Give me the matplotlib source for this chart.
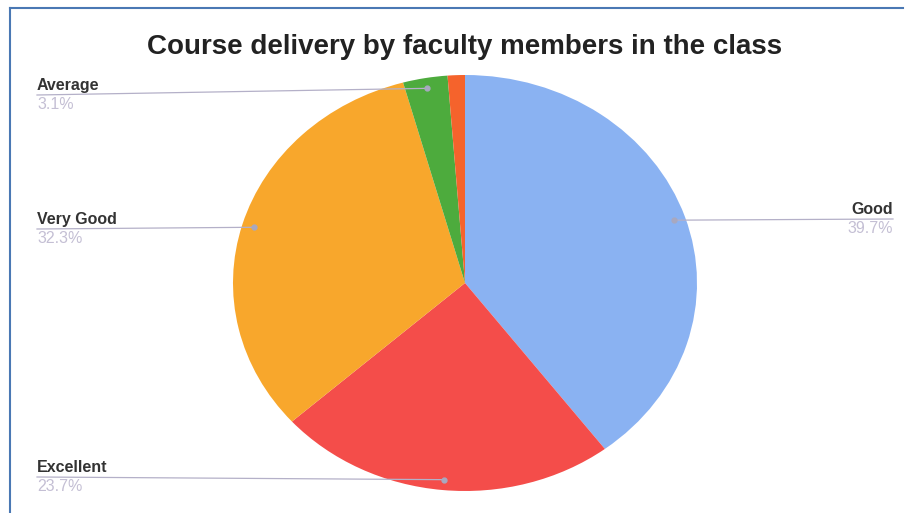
import matplotlib
matplotlib.use('agg')
import matplotlib.pyplot as plt
import numpy as np

plt.rcParams['font.family'] = ['Liberation Sans', 'DejaVu Sans']

# data (clockwise from 12 o'clock)
categories = ['Good', 'Excellent', 'Very Good', 'Average', 'Poor']
shares = [39.7, 23.7, 32.3, 3.1, 1.2]
colors = ['#8ab2f2', '#f44d4a', '#f8a72c', '#4dab3d', '#f5632c']
labelled = ['Good', 'Excellent', 'Very Good', 'Average']

W, H = 908, 513
fig = plt.figure(figsize=(W / 100, H / 100), dpi=100)

# pie axes, slightly stretched horizontally as in the scan
cx, cy, rx, ry = 465, 283, 232, 208
ax = fig.add_axes([(cx - rx) / W, (H - cy - ry) / H, 2 * rx / W, 2 * ry / H])
wedges, _ = ax.pie(shares, colors=colors, startangle=90, counterclock=False,
                   radius=1, wedgeprops=dict(linewidth=0))
ax.set_aspect('auto')
ax.set_xlim(-1, 1)
ax.set_ylim(-1, 1)
ax.axis('off')

# label positions in pixels: (x of text, y of leader line, side)
label_pos = {
    'Average': (37, 95, 'left'),
    'Very Good': (37, 229, 'left'),
    'Excellent': (37, 477, 'left'),
    'Good': (893, 219, 'right'),
}


def px(x, y):
    return (x - cx) / rx, (cy - y) / ry


for w, name, val in zip(wedges, categories, shares):
    if name not in labelled:
        continue
    mid = np.deg2rad((w.theta1 + w.theta2) / 2)
    dx, dy = 0.95 * np.cos(mid), 0.95 * np.sin(mid)
    lx, ly, side = label_pos[name]
    tx, ty = px(lx, ly)
    ax.plot([dx, tx], [dy, ty], color='#b4b0c8', lw=0.9, clip_on=False)
    ax.plot(dx, dy, 'o', ms=3.5, color='#a8a8c0', clip_on=False)
    _, ty1 = px(lx, ly - 2)
    _, ty2 = px(lx, ly + 2)
    ax.text(tx, ty1, name, ha=side, va='bottom', fontsize=11.5, fontweight='bold',
            color='#333333', clip_on=False)
    ax.text(tx, ty2, f'{val}%', ha=side, va='top', fontsize=11.5,
            color='#c4bfd4', clip_on=False)

fig.text(cx / W, 1 - 47 / H, 'Course delivery by faculty members in the class',
         ha='center', va='center', fontsize=20, fontweight='bold', color='#222222')

# scanned frame (top and left edges)
fig.add_artist(plt.Line2D([10 / W, 903 / W], [1 - 8 / H, 1 - 8 / H], color='#4a78b4', lw=1.5))
fig.add_artist(plt.Line2D([10 / W, 10 / W], [0, 1 - 8 / H], color='#4a78b4', lw=1.5))

fig.savefig('out.png', dpi=100)
